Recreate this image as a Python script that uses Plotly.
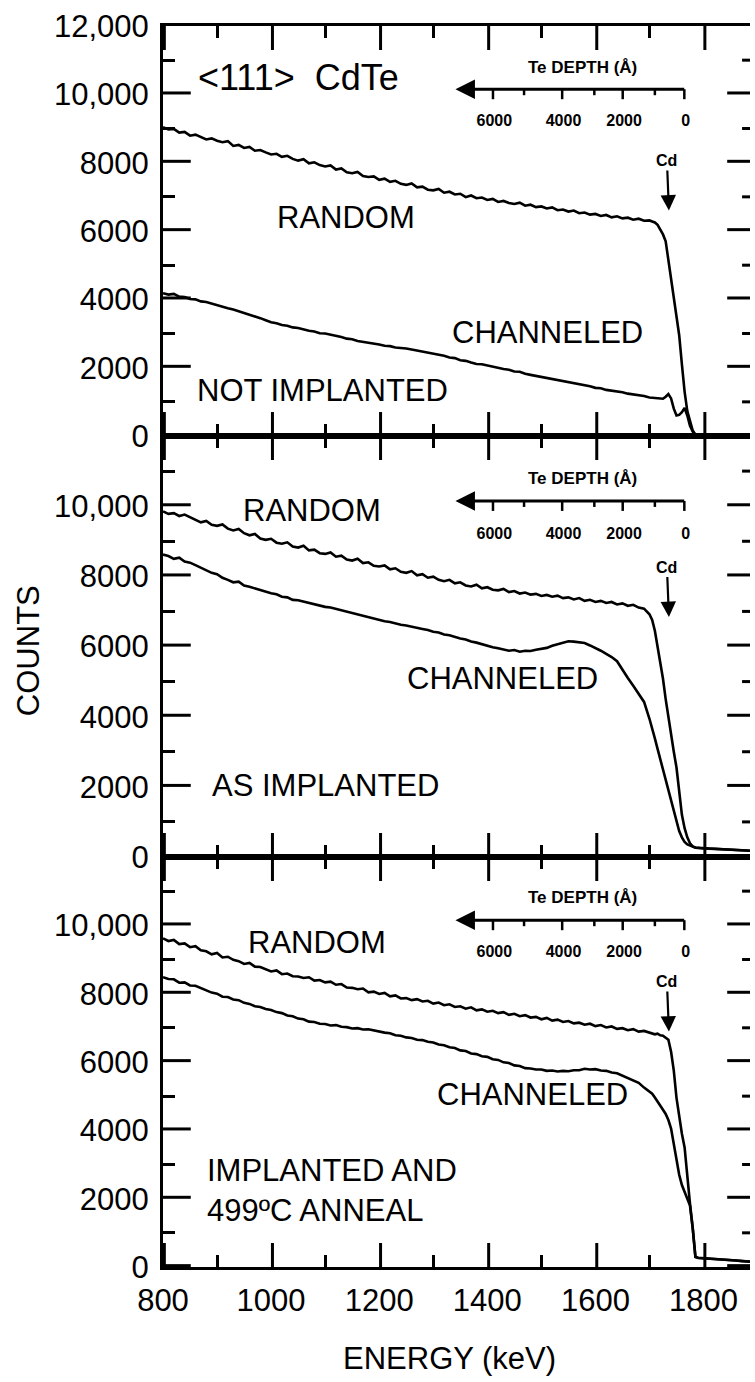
import plotly.graph_objects as go

# Energy channels (keV): coarse steps on the plateau, finer steps across the surface edge
energy = list(range(800, 1701, 10)) + list(range(1705, 1801, 5)) + list(range(1810, 1891, 10))

# ---- Panel 1: not implanted ----
random_not_impl = [
    9040, 8970, 8990, 8880, 8900, 8790, 8820, 8740, 8680, 8710,
    8640, 8600, 8630, 8490, 8520, 8430, 8460, 8350, 8370, 8300,
    8240, 8260, 8170, 8200, 8110, 8060, 8100, 7980, 8010, 7930,
    7890, 7920, 7800, 7830, 7720, 7690, 7730, 7610, 7580, 7600,
    7500, 7530, 7440, 7470, 7380, 7350, 7390, 7280, 7300, 7210,
    7190, 7230, 7120, 7150, 7070, 7090, 6990, 7040, 6960, 6980,
    6910, 6940, 6850, 6880, 6820, 6790, 6830, 6740, 6770, 6700,
    6720, 6660, 6690, 6610, 6630, 6570, 6600, 6520, 6540, 6480,
    6500, 6440, 6470, 6400, 6430, 6370, 6390, 6330, 6360, 6300,
    6310,
    6280, 6250, 6180, 6060, 5900, 5700, 5150, 4550, 3980, 3500,
    2950, 2100, 1300, 730, 400, 160, 40, 0, 0, 0,
    0, 0, 0, 0, 0, 0, 0, 0, 0,
]
channeled_not_impl = [
    4180, 4140, 4160, 4080, 4070, 4010, 4000, 3940, 3920, 3870,
    3820, 3790, 3740, 3700, 3650, 3600, 3570, 3510, 3450, 3390,
    3330, 3300, 3250, 3230, 3180, 3160, 3110, 3080, 3060, 3010,
    3000, 2970, 2930, 2900, 2850, 2830, 2780, 2760, 2720, 2710,
    2680, 2640, 2630, 2590, 2580, 2560, 2530, 2500, 2480, 2440,
    2410, 2390, 2350, 2300, 2280, 2220, 2200, 2150, 2110, 2100,
    2060, 2020, 2000, 1960, 1940, 1890, 1880, 1820, 1790, 1760,
    1720, 1710, 1660, 1650, 1600, 1580, 1540, 1520, 1480, 1460,
    1410, 1400, 1350, 1330, 1300, 1280, 1240, 1220, 1190, 1170,
    1130,
    1120, 1100, 1090, 1080, 1090, 1150, 1230, 1100, 800, 600,
    620, 700, 820, 600, 300, 130, 40, 0, 0, 0,
    0, 0, 0, 0, 0, 0, 0, 0, 0,
]

# ---- Panel 2: as implanted ----
random_as_impl = [
    9850, 9780, 9800, 9720, 9760, 9690, 9600, 9540, 9580, 9470,
    9440, 9480, 9360, 9310, 9350, 9230, 9170, 9210, 9080, 9040,
    9070, 8960, 8930, 8970, 8850, 8820, 8870, 8740, 8760, 8660,
    8640, 8680, 8560, 8590, 8480, 8450, 8500, 8380, 8400, 8300,
    8280, 8310, 8200, 8230, 8130, 8100, 8150, 8030, 8060, 7960,
    7990, 7900, 7860, 7900, 7800, 7830, 7740, 7710, 7760, 7660,
    7690, 7620, 7600, 7640, 7550, 7580, 7510, 7540, 7480, 7500,
    7440, 7470, 7420, 7450, 7380, 7400, 7340, 7380, 7300, 7330,
    7270, 7300, 7240, 7270, 7200, 7230, 7160, 7190, 7110, 7080,
    6920,
    6760, 6450, 6000, 5580, 5080, 4500, 3950, 3450, 3000, 2550,
    1900, 1200, 820, 560, 390, 300, 270, 260, 250, 245,
    240, 235, 225, 215, 210, 200, 190, 185, 175,
]
channeled_as_impl = [
    8620, 8580, 8500, 8530, 8420, 8390, 8320, 8240, 8180, 8100,
    8060, 7960, 7900, 7830, 7850, 7740, 7700, 7650, 7600, 7560,
    7520, 7490, 7420, 7400, 7330, 7320, 7280, 7240, 7200, 7180,
    7130, 7110, 7070, 7030, 6990, 6950, 6920, 6860, 6830, 6790,
    6760, 6720, 6700, 6650, 6620, 6600, 6560, 6530, 6500, 6470,
    6420, 6400, 6340, 6320, 6270, 6230, 6200, 6140, 6110, 6060,
    6030, 5980, 5950, 5920, 5880, 5900, 5850, 5880, 5870, 5910,
    5940, 5960, 6020, 6060, 6110, 6150, 6140, 6110, 6100, 6030,
    5960, 5880, 5790, 5700, 5580, 5330, 5100, 4880, 4650, 4420,
    3940,
    3680, 3380, 3080, 2780, 2480, 2180, 1880, 1580, 1320, 1000,
    740, 560, 430, 360, 320, 295, 265, 255, 248, 243,
    238, 233, 223, 213, 208, 198, 188, 183, 173,
]

# ---- Panel 3: implanted and 499 C anneal ----
random_annealed = [
    9620, 9540, 9570, 9450, 9470, 9360, 9390, 9270, 9240, 9150,
    9190, 9060, 9080, 8990, 8950, 8870, 8900, 8790, 8780, 8720,
    8650, 8680, 8570, 8590, 8510, 8500, 8460, 8480, 8380, 8400,
    8330, 8350, 8260, 8280, 8180, 8170, 8130, 8150, 8040, 8060,
    7990, 8020, 7920, 7950, 7860, 7870, 7810, 7840, 7770, 7790,
    7710, 7740, 7660, 7690, 7610, 7630, 7560, 7600, 7510, 7540,
    7470, 7500, 7430, 7460, 7380, 7410, 7340, 7370, 7300, 7320,
    7250, 7290, 7210, 7240, 7170, 7200, 7130, 7150, 7090, 7120,
    7050, 7080, 7010, 7040, 6970, 6990, 6930, 6960, 6890, 6910,
    6860,
    6840, 6810, 6830, 6780, 6770, 6720, 6650, 6300, 5750, 4950,
    4400, 3900, 3500, 2600, 1850, 1150, 300, 270, 265, 260,
    255, 245, 235, 220, 205, 195, 180, 165, 155,
]
channeled_annealed = [
    8480, 8430, 8420, 8320, 8330, 8240, 8230, 8170, 8110, 8030,
    8000, 7910, 7900, 7830, 7810, 7730, 7700, 7630, 7610, 7550,
    7520, 7460, 7430, 7360, 7340, 7270, 7250, 7180, 7170, 7120,
    7110, 7070, 7080, 7030, 7020, 6980, 6990, 6950, 6960, 6920,
    6900, 6860, 6840, 6780, 6770, 6720, 6700, 6650, 6640, 6590,
    6570, 6510, 6490, 6430, 6410, 6340, 6320, 6250, 6230, 6170,
    6150, 6080, 6060, 5990, 5970, 5900, 5880, 5820, 5810, 5780,
    5780, 5740, 5750, 5720, 5740, 5730, 5760, 5760, 5800, 5780,
    5790, 5750, 5740, 5690, 5670, 5600, 5550, 5460, 5390, 5250,
    5130,
    5070, 4960, 4850, 4720, 4600, 4480, 4300, 4050, 3600, 3100,
    2700, 2400, 2200, 2050, 1800, 1130, 290, 262, 258, 252,
    248, 238, 228, 213, 198, 188, 173, 158, 148,
]

for s in (random_not_impl, channeled_not_impl, random_as_impl,
          channeled_as_impl, random_annealed, channeled_annealed):
    assert len(s) == len(energy)

# Axis tick positions
energy_major = [800, 1000, 1200, 1400, 1600, 1800]
count_major = [0, 2000, 4000, 6000, 8000, 10000]
count_minor = [1000, 3000, 5000, 7000, 9000, 11000]

# Te depth scale: depth (angstrom) labels and the matching backscattered energy (keV)
depth_labels = ["6000", "4000", "2000", "0"]
depth_major_energy = [1413, 1541, 1653, 1767]
depth_minor_energy = [1468, 1598, 1710]
depth_arrow_tip = 1341
cd_edge_energy = 1736

FONT = "Liberation Sans, Arial, sans-serif"
INK = "black"
CLEAR = "rgba(0,0,0,0)"

X_RANGE = [800, 1886]
Y_RANGE = [0, 12000]
PLOT_W, PLOT_H = 592, 1241          # plotting area in pixels
KEV_PER_PX = (X_RANGE[1] - X_RANGE[0]) / PLOT_W
# tick strokes sit a hair off the label anchors so they are not merged with them
X_NUDGE = 2.5 * KEV_PER_PX / 1.834
Y_NUDGE = 40

# panel domains (paper), bottom -> top
domains = [(0.0, 0.3304), (0.3304, 0.6696), (0.6696, 1.0)]

panels = [
    dict(n=3, rnd=random_not_impl, chn=channeled_not_impl, cd=6600, dom=domains[2], top=True),
    dict(n=2, rnd=random_as_impl, chn=channeled_as_impl, cd=6840, dom=domains[1], top=False),
    dict(n=1, rnd=random_annealed, chn=channeled_annealed, cd=6890, dom=domains[0], top=False),
]

BARE = dict(showgrid=False, zeroline=False)
counter = {"x": 3, "y": 3}


def key(letter, num):
    return f"{letter}axis" if num == 1 else f"{letter}axis{num}"


def ref(letter, num):
    return letter if num == 1 else f"{letter}{num}"


fig = go.Figure()
layout = dict(
    width=755, height=1382,
    margin=dict(l=163, r=0, t=26, b=115),
    paper_bgcolor="white", plot_bgcolor=CLEAR,
    font=dict(family=FONT, color=INK, size=32),
    showlegend=False,
)
shapes = []


def helper(letter, spec, xid, yid):
    """Register a helper axis and an empty trace that pins it to a subplot."""
    counter[letter] += 1
    num = counter[letter]
    layout[key(letter, num)] = spec
    hx, hy = (ref("x", num), yid) if letter == "x" else (xid, ref("y", num))
    fig.add_trace(go.Scatter(x=[None], y=[None], xaxis=hx, yaxis=hy,
                             mode="lines", showlegend=False, hoverinfo="skip"))


def tick(xid, yid, x0, x1, y0, y1, width=3):
    shapes.append(dict(type="line", xref=xid, yref=yid, x0=x0, x1=x1, y0=y0, y1=y1,
                       line=dict(color=INK, width=width), layer="above"))


DEPTH_LEVEL = 10150
DEPTH_LABEL_LEVEL = 9560
span = X_RANGE[1] - X_RANGE[0]
depth_dom = [(depth_arrow_tip - X_RANGE[0]) / span, (depth_major_energy[-1] - X_RANGE[0]) / span]

for p in panels:
    n = p["n"]
    xid, yid = ref("x", n), ref("y", n)
    p.update(xid=xid, yid=yid)
    lo, hi = p["dom"]
    counts_per_px = (Y_RANGE[1] - Y_RANGE[0]) / ((hi - lo) * PLOT_H)

    for series in (p["rnd"], p["chn"]):
        fig.add_trace(go.Scatter(
            x=energy, y=series, xaxis=xid, yaxis=yid, mode="lines",
            line=dict(color=INK, width=2.6), showlegend=False, hoverinfo="skip",
        ))

    # main axes carry the tick labels (spaced off the frame by clear ticks)
    layout[key("x", n)] = dict(
        anchor=yid, domain=[0, 1], range=X_RANGE,
        tickmode="array", tickvals=energy_major,
        ticks="outside", ticklen=6, tickcolor=CLEAR,
        showline=False, showticklabels=(n == 1),
        tickfont=dict(family=FONT, size=31, color=INK), **BARE,
    )
    alias = {"10000": "10,000", "12000": "12,000" if p["top"] else " "}
    layout[key("y", n)] = dict(
        domain=[lo, hi], range=Y_RANGE, anchor=xid,
        tickmode="linear", tick0=0, dtick=2000, tickformat="d", labelalias=alias,
        ticks="outside", ticklen=7, tickcolor=CLEAR, showline=False,
        tickfont=dict(family=FONT, size=31, color=INK), **BARE,
    )

    # minor energy ticks every 100 keV (bottom and mirrored on top)
    helper("x", dict(overlaying=xid, anchor=yid, range=X_RANGE, side="bottom",
                     tickmode="linear", tick0=900, dtick=200, ticks="inside",
                     ticklen=12, tickwidth=3, tickcolor=INK, mirror="ticks",
                     showline=False, showticklabels=False, **BARE), xid, yid)
    # frame lines (bottom and top)
    helper("x", dict(overlaying=xid, anchor=yid, range=X_RANGE, side="bottom", ticks="",
                     showline=True, linewidth=3, linecolor=INK, mirror=True,
                     showticklabels=False, **BARE), xid, yid)
    # minor count ticks on the left
    helper("y", dict(overlaying=yid, anchor=xid, range=Y_RANGE, side="left",
                     tickmode="linear", tick0=1000, dtick=2000, ticks="inside",
                     ticklen=12, tickwidth=3, tickcolor=INK,
                     showline=False, showticklabels=False, **BARE), xid, yid)
    # left frame line
    helper("y", dict(overlaying=yid, anchor=xid, range=Y_RANGE, side="left", ticks="",
                     showline=True, linewidth=3, linecolor=INK,
                     showticklabels=False, **BARE), xid, yid)
    # depth-scale labels
    helper("x", dict(anchor="free", position=lo + (hi - lo) * DEPTH_LABEL_LEVEL / Y_RANGE[1],
                     domain=depth_dom, range=[depth_arrow_tip, depth_major_energy[-1]],
                     tickmode="array", tickvals=depth_major_energy, ticktext=depth_labels,
                     ticks="", showline=False,
                     tickfont=dict(family=FONT, size=16, color=INK, weight="bold"), **BARE),
           xid, yid)

    # major tick marks, laid out in the panel's own energy/count coordinates
    for e in energy_major:
        xe = e + X_NUDGE
        tick(xid, yid, xe, xe, Y_RANGE[0], Y_RANGE[0] + 24 * counts_per_px)
        tick(xid, yid, xe, xe, Y_RANGE[1], Y_RANGE[1] - 24 * counts_per_px)
    for c in count_major:
        yc = c + Y_NUDGE
        tick(xid, yid, X_RANGE[0], X_RANGE[0] + 28 * KEV_PER_PX, yc, yc)
        tick(xid, yid, X_RANGE[1], X_RANGE[1] - 23 * KEV_PER_PX, yc, yc)
    for c in count_minor:
        tick(xid, yid, X_RANGE[1], X_RANGE[1] - 8 * KEV_PER_PX, c, c)
    # depth-scale ticks hanging below the arrow line
    for e in depth_major_energy:
        xe = e - X_NUDGE
        tick(xid, yid, xe, xe, DEPTH_LEVEL, DEPTH_LEVEL - 10 * counts_per_px, width=2.5)
    for e in depth_minor_energy:
        tick(xid, yid, e, e, DEPTH_LEVEL, DEPTH_LEVEL - 6 * counts_per_px, width=2.5)

fig.update_layout(**layout)

ann = []


def label(text, x, y, xref, yref, size=31, xanchor="center"):
    ann.append(dict(text=text, x=x, y=y, xref=xref, yref=yref, showarrow=False,
                    xanchor=xanchor, yanchor="middle",
                    font=dict(family=FONT, size=size, color=INK)))


for p in panels:
    xid, yid = p["xid"], p["yid"]
    # depth scale line with its left-pointing arrowhead
    ann.append(dict(x=depth_arrow_tip, y=DEPTH_LEVEL, xref=xid, yref=yid,
                    ax=depth_major_energy[-1], ay=DEPTH_LEVEL, axref=xid, ayref=yid,
                    text="", showarrow=True, arrowhead=2,
                    arrowsize=1.3, arrowwidth=3, arrowcolor=INK))
    ann.append(dict(x=1576, y=10800, xref=xid, yref=yid, text="Te DEPTH (Å)",
                    showarrow=False, xanchor="center", yanchor="middle",
                    font=dict(family=FONT, size=17, color=INK, weight="bold")))
    # Cd surface edge marker
    ann.append(dict(x=cd_edge_energy, y=p["cd"], xref=xid, yref=yid, text="Cd",
                    ax=-2, ay=-50, showarrow=True, arrowhead=2, arrowsize=1.4,
                    arrowwidth=2.2, arrowcolor=INK,
                    font=dict(family=FONT, size=16, color=INK, weight="bold")))

# panel 1 texts
label("&lt;111&gt;  CdTe", 1051, 10500, "x3", "y3", size=36)
label("RANDOM", 1138, 6400, "x3", "y3")
label("CHANNELED", 1512, 3020, "x3", "y3")
label("NOT IMPLANTED", 1095, 1320, "x3", "y3")
# panel 2 texts
label("RANDOM", 1075, 9890, "x2", "y2")
label("CHANNELED", 1428, 5100, "x2", "y2")
label("AS IMPLANTED", 1101, 2050, "x2", "y2")
# panel 3 texts
label("RANDOM", 1084, 9500, "x", "y")
label("CHANNELED", 1484, 5060, "x", "y")
label("IMPLANTED AND", 877, 2820, "x", "y", xanchor="left")
label("499ºC ANNEAL", 877, 1660, "x", "y", xanchor="left")

# axis titles
label("COUNTS", -0.228, 0.4964, "paper", "paper", size=31)
ann[-1]["textangle"] = -90
label("ENERGY (keV)", 0.488, -0.0741, "paper", "paper", size=31)

fig.update_layout(annotations=ann, shapes=shapes)
fig.write_html("out.html")
